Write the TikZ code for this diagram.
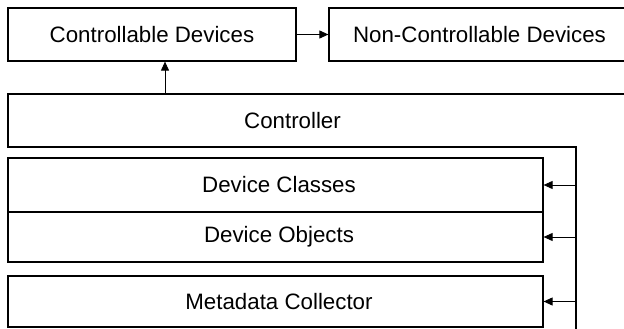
\documentclass[tikz,border=0pt]{standalone}
\usepackage{fontspec}
\setmainfont{Liberation Sans}
\usetikzlibrary{arrows.meta}
\begin{document}
\begin{tikzpicture}[x=1pt,y=-1pt,
  boxstyle/.style={draw, line width=1.2pt, rectangle, inner sep=0pt, anchor=center,
     font=\fontsize{22.3}{26}\selectfont},
  linestyle/.style={line width=1.2pt},
  arr/.style={line width=0.9pt, -{Triangle[length=9pt,width=8pt]}}]
\useasboundingbox (0,0) rectangle (624,329);
\clip (0,0) rectangle (624,329);
% top row
\node[boxstyle, minimum width=288pt, minimum height=53pt] (cd) at (152,34.5) {Controllable Devices};
\node[boxstyle, minimum width=301pt, minimum height=53pt] (ncd) at (479.5,34.5) {Non-Controllable Devices};
% controller outline
\coordinate (ctrTR) at (640,94);
\coordinate (ctrTL) at (8,94);
\coordinate (ctrBL) at (8,147);
\coordinate (bus) at (576,147);
\coordinate (busEnd) at (576,335);
\draw[linestyle, line join=miter] (ctrTR) -- (ctrTL) -- (ctrBL) -- (bus) -- (busEnd);
\node[font=\fontsize{22.3}{26}\selectfont, inner sep=0pt] (ctrl) at (292.5,120.5) {Controller};
% inner boxes
\node[boxstyle, minimum width=535pt, minimum height=54pt] (dc) at (275.5,185) {\hspace*{7pt}Device Classes};
\node[boxstyle, minimum width=535pt, minimum height=50pt] (do) at (275.5,237) {\hspace*{7pt}Device Objects};
\node[boxstyle, minimum width=535pt, minimum height=51pt] (mc) at (275.5,301.5) {\hspace*{7pt}Metadata Collector};
% connectors
\draw[arr] (cd.east) -- (ncd.west);
\coordinate (ctrUp) at (165,94);
\draw[arr] (ctrUp) -- (ctrUp |- cd.south);
\draw[arr] (bus |- dc.east) -- (dc.east);
\draw[arr] (bus |- do.east) -- (do.east);
\draw[arr] (bus |- mc.east) -- (mc.east);
\end{tikzpicture}
\end{document}
